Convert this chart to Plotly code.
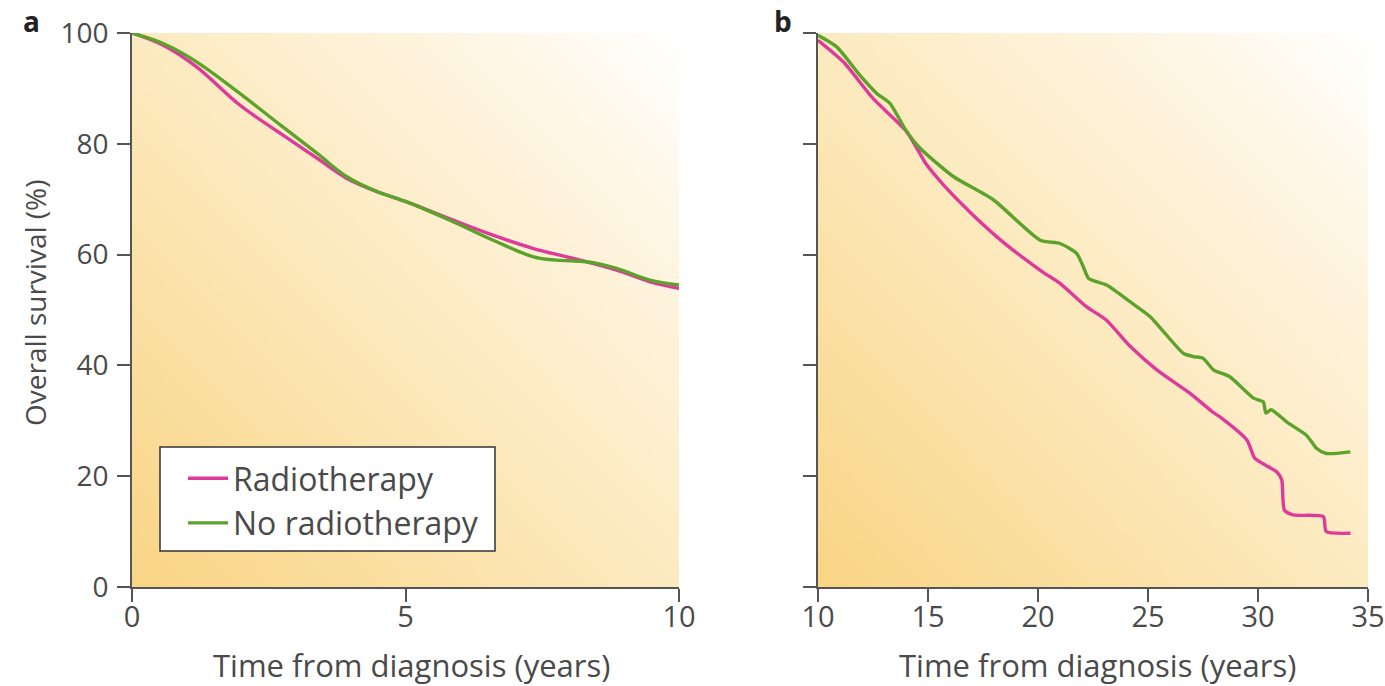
import numpy as np
import plotly.graph_objects as go

# ---- Panel a: first 10 years ----
a_years_rt = [0, 0.57, 1.18, 1.97, 2.71, 3.38, 3.92, 4.5, 5.0, 5.8, 6.6, 7.34, 7.95, 8.31, 8.86, 9.47, 10.0]
a_surv_rt = [100, 97.8, 93.9, 87.0, 81.9, 77.4, 73.8, 71.3, 69.6, 66.5, 63.5, 61.1, 59.6, 58.7, 57.2, 55.1, 53.9]

a_years_nort = [0, 0.57, 1.18, 1.97, 2.71, 3.38, 3.92, 4.47, 5.0, 5.81, 6.6, 7.34, 7.76, 8.31, 8.86, 9.47, 10.0]
a_surv_nort = [100, 98.1, 94.8, 89.1, 83.4, 78.3, 74.1, 71.4, 69.6, 66.2, 62.6, 59.6, 59.0, 58.7, 57.5, 55.4, 54.5]

# ---- Panel b: 10 to 35 years ----
b_years_rt = [10.0, 11.15, 12.5, 14.03, 14.94, 15.7, 16.9, 18.4, 20.2, 21.0, 22.2, 23.1, 24.2, 25.4,
              26.9, 27.97, 28.27, 29.5, 29.86, 30.85, 31.08, 31.2, 31.6, 32.97, 33.1, 34.2]
b_surv_rt = [98.7, 94.8, 88.2, 82.2, 76.2, 72.6, 67.7, 62.3, 56.9, 54.8, 50.6, 48.2, 43.4, 39.2,
             35.0, 31.5, 30.7, 26.5, 23.2, 20.8, 19.3, 13.9, 13.0, 12.7, 10.0, 9.7]

b_years_nort = [10.0, 10.85, 11.9, 12.67, 13.27, 14.03, 14.64, 16.15, 17.97, 20.1, 21.0, 21.76, 22.06,
                22.3, 23.12, 24.18, 25.1, 26.6, 27.06, 27.5, 27.97, 28.7, 29.8, 30.24, 30.36, 30.6,
                31.3, 32.2, 32.67, 33.1, 34.2]
b_surv_nort = [99.6, 97.5, 92.4, 89.1, 87.3, 82.2, 79.2, 74.1, 69.9, 62.6, 62.0, 60.2, 57.8,
               55.7, 54.5, 51.5, 48.8, 42.2, 41.6, 41.3, 39.2, 38.0, 34.1, 33.4, 31.4, 32.0,
               29.8, 27.4, 25.0, 24.1, 24.4]

y_ticks = [0, 20, 40, 60, 80, 100]
a_x_ticks = [0, 5, 10]
b_x_ticks = [10, 15, 20, 25, 30, 35]

X_TITLE = "Time from diagnosis (years)"
Y_TITLE = "Overall survival (%)"

PINK = "#dd3a9c"
GREEN = "#5ba32b"
AXIS = "#555555"
TEXT = "#4a4a4a"
FONT = "Open Sans"

fig = go.Figure()

# diagonal warm gradient behind each panel (dark bottom-left -> white top-right)
gradient_scale = [[0.0, "rgb(249,212,132)"], [0.45, "rgb(252,232,186)"],
                  [0.8, "rgb(254,246,227)"], [1.0, "rgb(255,255,255)"]]


def add_gradient(xr, xref, yref):
    gx = np.linspace(xr[0], xr[1], 60)
    gy = np.linspace(0, 100, 60)
    u = (gx - xr[0]) / (xr[1] - xr[0])
    v = gy / 100.0
    z = (u[None, :] + v[:, None]) / 2.0
    fig.add_trace(go.Heatmap(x=gx, y=gy, z=z, colorscale=gradient_scale, zmin=0, zmax=1,
                             zsmooth="best", showscale=False, hoverinfo="skip",
                             xaxis=xref, yaxis=yref))


add_gradient([0, 10], "x", "y")
add_gradient([10, 35], "x2", "y2")

line_kw = dict(mode="lines", line_shape="spline")

fig.add_trace(go.Scatter(x=a_years_rt, y=a_surv_rt, name="Radiotherapy",
                         line=dict(color=PINK, width=3.4, smoothing=1.0), **line_kw,
                         xaxis="x", yaxis="y"))
fig.add_trace(go.Scatter(x=a_years_nort, y=a_surv_nort, name="No radiotherapy",
                         line=dict(color=GREEN, width=3.4, smoothing=1.0), **line_kw,
                         xaxis="x", yaxis="y"))
fig.add_trace(go.Scatter(x=b_years_rt, y=b_surv_rt, name="Radiotherapy", showlegend=False,
                         line=dict(color=PINK, width=3.4, smoothing=0.6), **line_kw,
                         xaxis="x2", yaxis="y2"))
fig.add_trace(go.Scatter(x=b_years_nort, y=b_surv_nort, name="No radiotherapy", showlegend=False,
                         line=dict(color=GREEN, width=3.4, smoothing=0.6), **line_kw,
                         xaxis="x2", yaxis="y2"))

W, H = 1385, 686
ax_common = dict(showline=True, linecolor=AXIS, linewidth=1.6, ticks="outside", ticklen=13,
                 tickwidth=1.6, tickcolor=AXIS, showgrid=False, zeroline=False, automargin=False,
                 ticklabeloverflow="allow", mirror=False)

x_tickfont = dict(family=FONT, size=29, color=TEXT)

# framed white box that holds the legend entries
legend_box = dict(type="rect", xref="paper", yref="paper", layer="above",
                  x0=160 / W, x1=495 / W, y0=1 - 551 / H, y1=1 - 447 / H,
                  fillcolor="white", line=dict(color="#333333", width=1.5))


def text_note(text, x, y, size, color=TEXT, angle=0):
    return dict(text=text, x=x / W, y=1 - y / H,
                xref="paper", yref="paper", showarrow=False, textangle=angle,
                font=dict(family=FONT, size=size, color=color),
                xanchor="center", yanchor="middle")


def panel_tag(letter, x):
    # bold panel letter hung from the top edge of the figure
    return dict(text=f"<b>{letter}</b>", x=x / W, y=1.0, xref="paper", yref="paper",
                showarrow=False, font=dict(family=FONT, size=28, color="#222222"),
                xanchor="center", yanchor="top")


fig.update_layout(
    width=W, height=H,
    margin=dict(l=0, r=0, t=0, b=0),
    paper_bgcolor="white", plot_bgcolor="white",
    font=dict(family=FONT, color=TEXT),
    showlegend=True,
    shapes=[legend_box],
    xaxis=dict(domain=[132 / W, 679 / W], range=[0, 10], tickvals=a_x_ticks, anchor="y",
               tickfont=x_tickfont, ticklabelstandoff=-10, **ax_common),
    yaxis=dict(domain=[1 - 587 / H, 1 - 33 / H], range=[0, 100], tickvals=y_ticks, anchor="x",
               tickfont=dict(family=FONT, size=28, color=TEXT), ticklabelstandoff=3, **ax_common),
    xaxis2=dict(domain=[818 / W, 1368 / W], range=[10, 35], tickvals=b_x_ticks, anchor="y2",
                tickfont=x_tickfont, ticklabelstandoff=-10, **ax_common),
    yaxis2=dict(domain=[1 - 587 / H, 1 - 33 / H], range=[0, 100], tickvals=y_ticks, showticklabels=False,
                anchor="x2", **ax_common),
    legend=dict(x=183 / W, y=1 - 451 / H, xanchor="left", yanchor="top",
                bgcolor="rgba(0,0,0,0)", borderwidth=0,
                font=dict(family=FONT, size=32, color=TEXT), itemwidth=40, tracegroupgap=0),
    annotations=[
        panel_tag("a", 31),
        panel_tag("b", 783),
        text_note(X_TITLE, 411, 665, 31),
        text_note(X_TITLE, 1097, 665, 31),
        text_note(Y_TITLE, 35, 303, 28, angle=-90),
    ],
)

fig.write_html("out.html")
